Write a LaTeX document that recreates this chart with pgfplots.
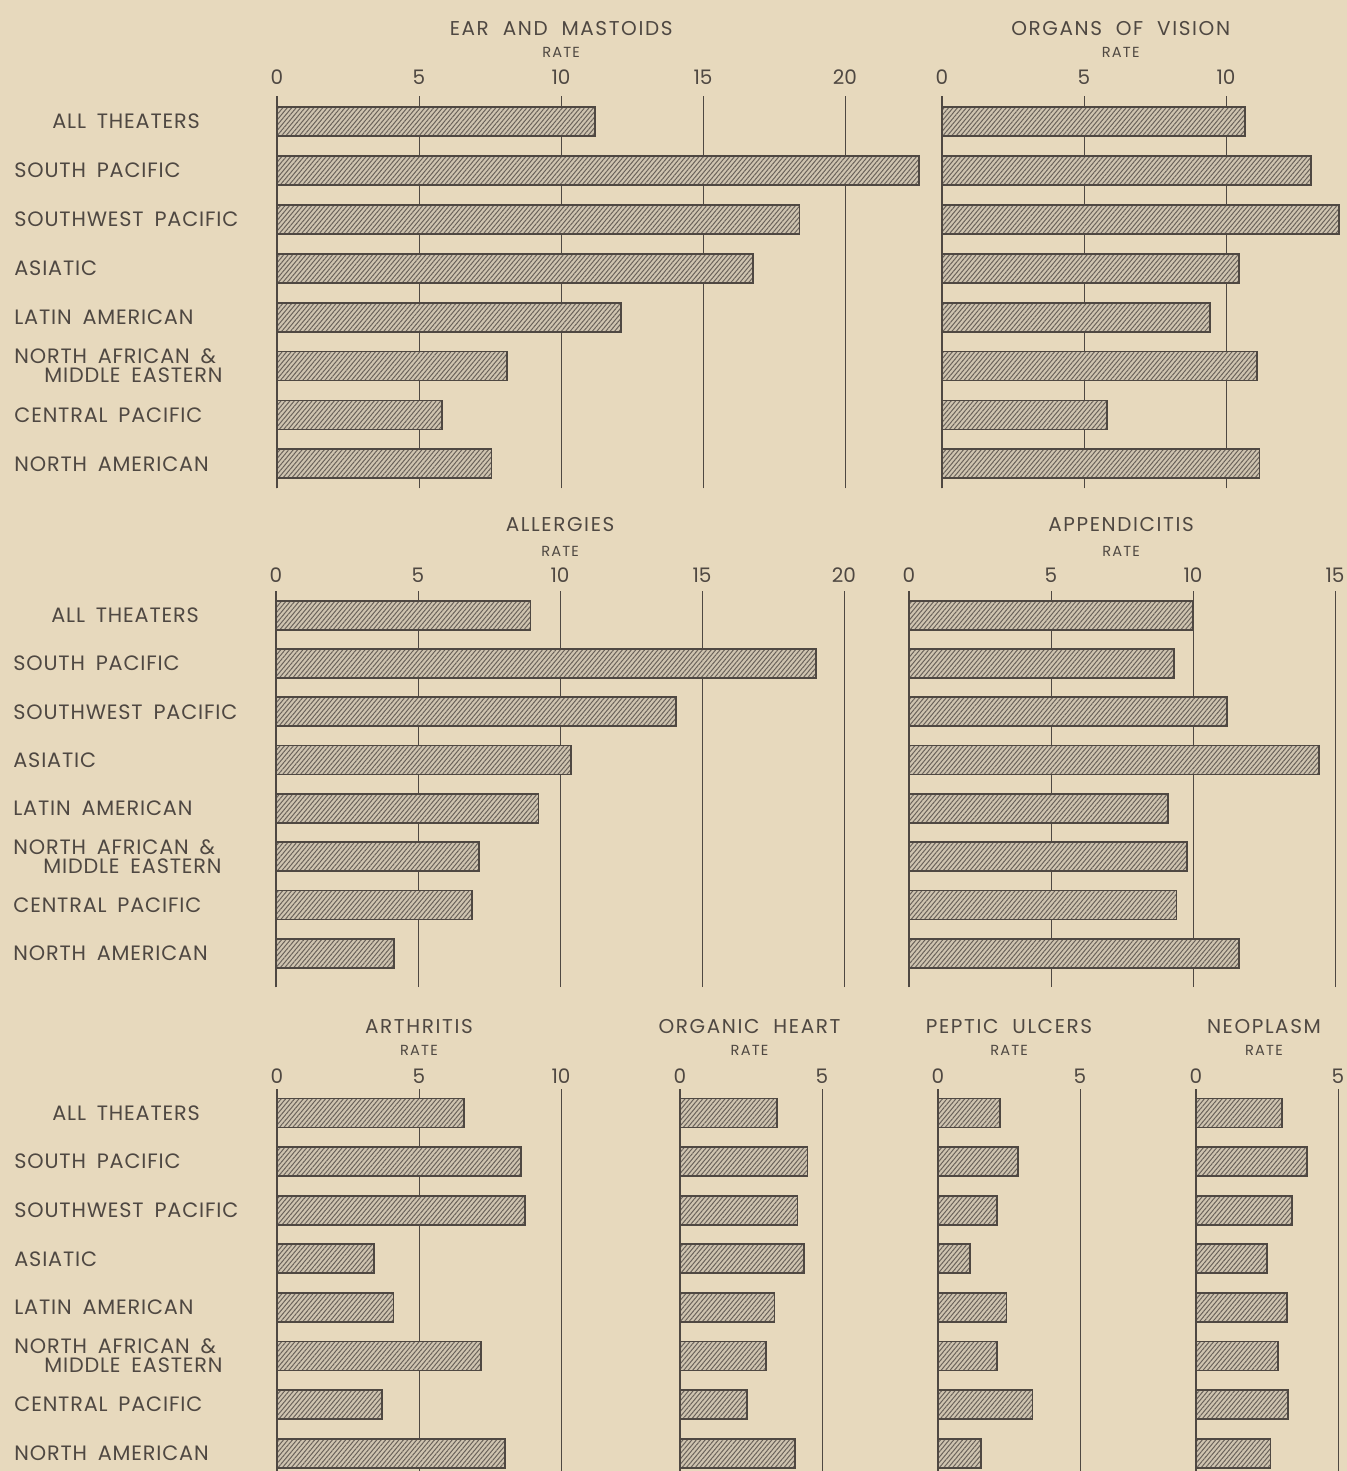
\documentclass[border=0pt]{standalone}
\usepackage{fontspec}
\setmainfont{Poppins}
\newfontfamily\labfont[LetterSpace=4, WordSpace=1.7]{Poppins}
\newfontfamily\titfont[LetterSpace=8, WordSpace=2]{Poppins}
\usepackage{pgfplots}
\pgfplotsset{compat=1.18}
\usetikzlibrary{patterns.meta}

\definecolor{paper}{HTML}{E7D9BD}
\definecolor{ink}{HTML}{4F4842}
\definecolor{barbg}{HTML}{CFC4B0}
\definecolor{hatch}{HTML}{6A625A}

\pgfplotsset{
  panel/.style={
    anchor=north west, clip=false,
    xbar, bar width=14.5pt, bar shift=0pt,
    x=14.2pt, xmin=0,
    separate axis lines,
    axis y line*=left, axis x line*=top,
    x axis line style={draw=none},
    y axis line style={line width=1.3pt, draw=ink, -},
    xmajorgrids, grid style={line width=0.5pt, ink},
    extra x ticks={0}, extra x tick labels={},
    extra x tick style={grid style={line width=1.4pt, ink}},
    major tick length=0pt, xtick distance=5, ytick=\empty,
    /pgf/number format/assume math mode=true,
    xticklabel style={font=\fontsize{10}{10}\selectfont, text=ink, anchor=center},
    xlabel={RATE},
    xlabel style={font=\titfont\fontsize{7.3}{7.3}\selectfont, text=ink, anchor=center},
    title style={font=\titfont\fontsize{10}{10}\selectfont, text=ink, anchor=center},
  },
  hbar/.style={draw=ink, line width=0.9pt, fill=barbg,
    postaction={pattern color=hatch, pattern={Lines[angle=50,distance=1.7pt,line width=0.5pt]}}},
  row/.style n args={3}{xticklabel style={yshift=#1}, xlabel style={yshift=#2}, title style={yshift=#3}},
  hpos/.style={title style={at={(axis description cs:#1,1)}}, xlabel style={at={(axis description cs:#1,1)}}},
  names/.style={
    ytick={0,...,7},
    yticklabels={NORTH AMERICAN, CENTRAL PACIFIC, {NORTH AFRICAN \&\\\hspace*{15pt}MIDDLE EASTERN},
      LATIN AMERICAN, ASIATIC, SOUTHWEST PACIFIC, SOUTH PACIFIC, \hspace*{19pt}ALL THEATERS},
    yticklabel style={anchor=west, inner sep=0pt, xshift=-131.5pt, align=left,
      font=\labfont\fontsize{10.4}{9.5}\selectfont, text=ink},
  },
}

\begin{document}
\begin{tikzpicture}
\path[use as bounding box] (0,0) rectangle (673.5pt,-735.5pt);
\fill[paper] (0,0) rectangle (673.5pt,-735.5pt);
\clip (0,0) rectangle (673.5pt,-735.5pt);

% row 1
\begin{axis}[panel, names, at={(138.5pt,-47.8pt)}, y=24.45pt, ymin=-0.5, ymax=7.53,
  xmax=23, row={9.3pt}{21.8pt}{27.3pt}, hpos=0.435, title={EAR AND MASTOIDS}]
\addplot[hbar] coordinates {(11.2,7) (22.6,6) (18.4,5) (16.75,4) (12.1,3) (8.1,2) (5.8,1) (7.55,0)};
\end{axis}
\begin{axis}[panel, at={(471pt,-47.8pt)}, y=24.45pt, ymin=-0.5, ymax=7.53,
  xmax=14.3, row={9.3pt}{21.8pt}{27.3pt}, hpos=0.44, title={ORGANS OF VISION}]
\addplot[hbar] coordinates {(10.66,7) (13.0,6) (13.97,5) (10.45,4) (9.43,3) (11.08,2) (5.8,1) (11.18,0)};
\end{axis}

% row 2
\begin{axis}[panel, names, at={(138pt,-295.5pt)}, y=24.15pt, ymin=-0.7, ymax=7.5,
  xmax=20.5, row={8pt}{20pt}{27pt}, hpos=0.488, title={ALLERGIES}]
\addplot[hbar] coordinates {(8.96,7) (19.0,6) (14.08,5) (10.38,4) (9.24,3) (7.14,2) (6.91,1) (4.16,0)};
\end{axis}
\begin{axis}[panel, at={(454.5pt,-295.5pt)}, y=24.15pt, ymin=-0.7, ymax=7.5,
  xmax=15.3, row={8pt}{20pt}{27pt}, hpos=0.488, title={APPENDICITIS}]
\addplot[hbar] coordinates {(10.0,7) (9.34,6) (11.2,5) (14.44,4) (9.13,3) (9.8,2) (9.42,1) (11.63,0)};
\end{axis}

% row 3
\begin{axis}[panel, names, at={(138.5pt,-544.35pt)}, y=24.3pt, ymin=-0.8, ymax=7.5,
  xmax=10.5, row={6.4pt}{19.4pt}{24.9pt}, hpos=0.476, title={ARTHRITIS}]
\addplot[hbar] coordinates {(6.59,7) (8.58,6) (8.73,5) (3.42,4) (4.1,3) (7.18,2) (3.7,1) (8.02,0)};
\end{axis}
\begin{axis}[panel, at={(340pt,-544.35pt)}, y=24.3pt, ymin=-0.8, ymax=7.5,
  xmax=5.3, row={6.4pt}{19.4pt}{24.9pt}, hpos=0.462, title={ORGANIC HEART}]
\addplot[hbar] coordinates {(3.41,7) (4.49,6) (4.14,5) (4.37,4) (3.33,3) (3.03,2) (2.35,1) (4.06,0)};
\end{axis}
\begin{axis}[panel, at={(469pt,-544.35pt)}, y=24.3pt, ymin=-0.8, ymax=7.5,
  xmax=5.3, row={6.4pt}{19.4pt}{24.9pt}, hpos=0.472, title={PEPTIC ULCERS}]
\addplot[hbar] coordinates {(2.19,7) (2.81,6) (2.08,5) (1.14,4) (2.41,3) (2.08,2) (3.33,1) (1.52,0)};
\end{axis}
\begin{axis}[panel, at={(598pt,-544.35pt)}, y=24.3pt, ymin=-0.8, ymax=7.5,
  xmax=5.2, row={6.4pt}{19.4pt}{24.9pt}, hpos=0.46, title={NEOPLASM}]
\addplot[hbar] coordinates {(3.02,7) (3.92,6) (3.38,5) (2.49,4) (3.21,3) (2.89,2) (3.24,1) (2.62,0)};
\end{axis}
\end{tikzpicture}
\end{document}
